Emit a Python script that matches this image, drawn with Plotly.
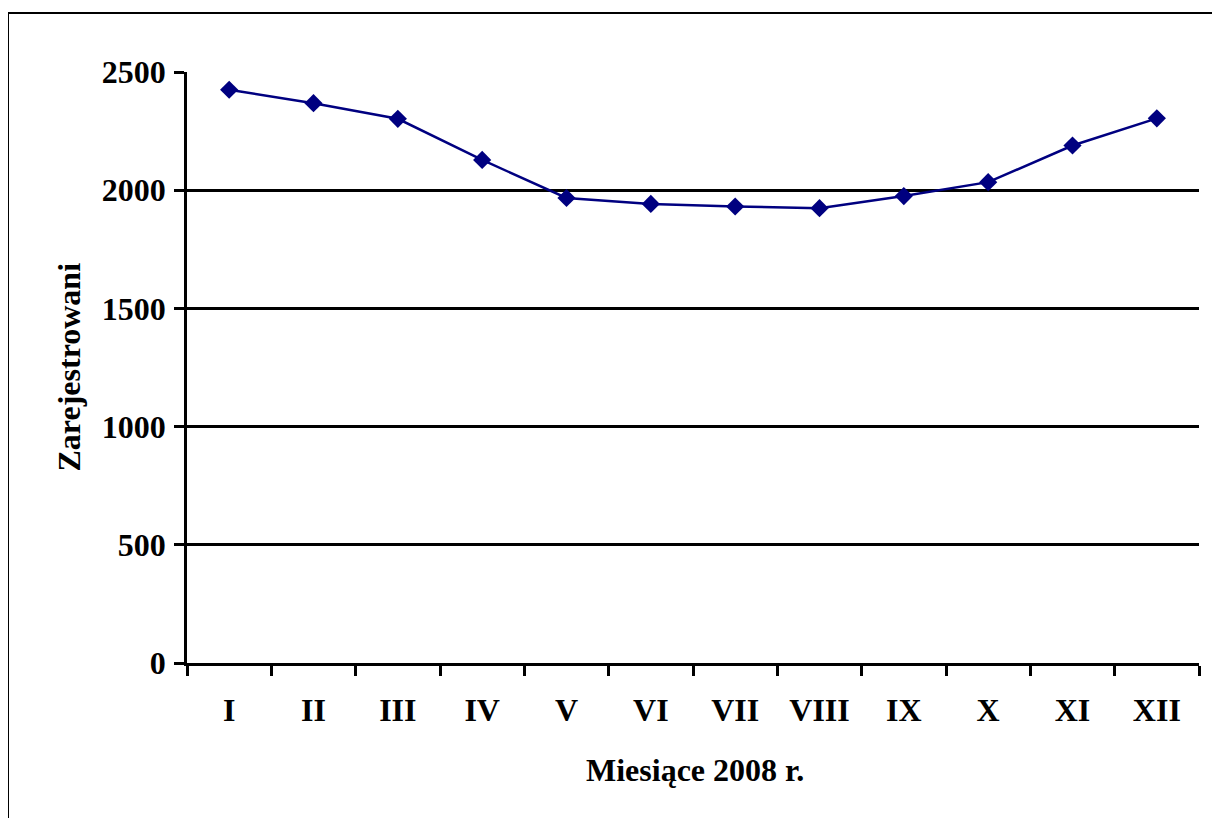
import plotly.graph_objects as go

months = ["I", "II", "III", "IV", "V", "VI", "VII", "VIII", "IX", "X", "XI", "XII"]
registered = [2425, 2368, 2302, 2128, 1967, 1942, 1931, 1924, 1975, 2034, 2189, 2304]
y_ticks = [0, 500, 1000, 1500, 2000, 2500]

FONT = "Liberation Serif"

fig = go.Figure()
fig.add_trace(go.Scatter(
    x=months, y=registered, mode="lines+markers",
    line=dict(color="#000080", width=2.5),
    marker=dict(symbol="diamond", size=14, color="#000080"),
    showlegend=False,
))

# page has an 8px body margin; compensate
OFF = 8
L, T = 187 - OFF, 72 - OFF
pw, ph = 1012, 591
W, H = 1220 - OFF, 818 - OFF
R, B = W - L - pw, H - T - ph

def px_x(x):
    return (x - OFF - L) / pw

def px_y(y):
    return (T + ph - (y - OFF)) / ph

fig.update_layout(
    width=W, height=H,
    margin=dict(l=L, r=R, t=T, b=B, pad=0),
    paper_bgcolor="white", plot_bgcolor="white",
    font=dict(family=FONT, size=32, color="black"),
    xaxis=dict(
        type="category", tickson="boundaries", ticks="outside", ticklen=10,
        tickwidth=2.5, tickcolor="black", showline=True, linecolor="black",
        linewidth=2.5, showgrid=False, range=[-0.5, 11.5],
        ticklabelstandoff=17,
        tickfont=dict(family=FONT, size=32, color="black", weight="bold"),
    ),
    yaxis=dict(
        range=[0, 2500], tickvals=y_ticks, ticks="outside", ticklen=10,
        tickwidth=2.5, tickcolor="black", showline=True, linecolor="black",
        linewidth=2.5, showgrid=True, gridcolor="black", gridwidth=2.5,
        zeroline=False, ticklabelstandoff=2,
        tickfont=dict(family=FONT, size=32, color="black", weight="bold"),
    ),
)

fig.add_annotation(
    text="<b>Zarejestrowani</b>", xref="paper", yref="paper",
    x=px_x(68), y=0.5, xanchor="center", yanchor="middle",
    textangle=-90, showarrow=False,
    font=dict(family=FONT, size=32, color="black"),
)
fig.add_annotation(
    text="<b>Miesiące 2008 r.</b>", xref="paper", yref="paper",
    x=px_x(695), y=px_y(770), xanchor="center", yanchor="middle",
    showarrow=False,
    font=dict(family=FONT, size=32, color="black"),
)

fig.add_shape(
    type="rect", xref="paper", yref="paper",
    x0=px_x(8), x1=px_x(1240),
    y0=px_y(840), y1=px_y(13),
    line=dict(color="black", width=2), fillcolor="rgba(0,0,0,0)",
    layer="below",
)

fig.write_html("out.html")
